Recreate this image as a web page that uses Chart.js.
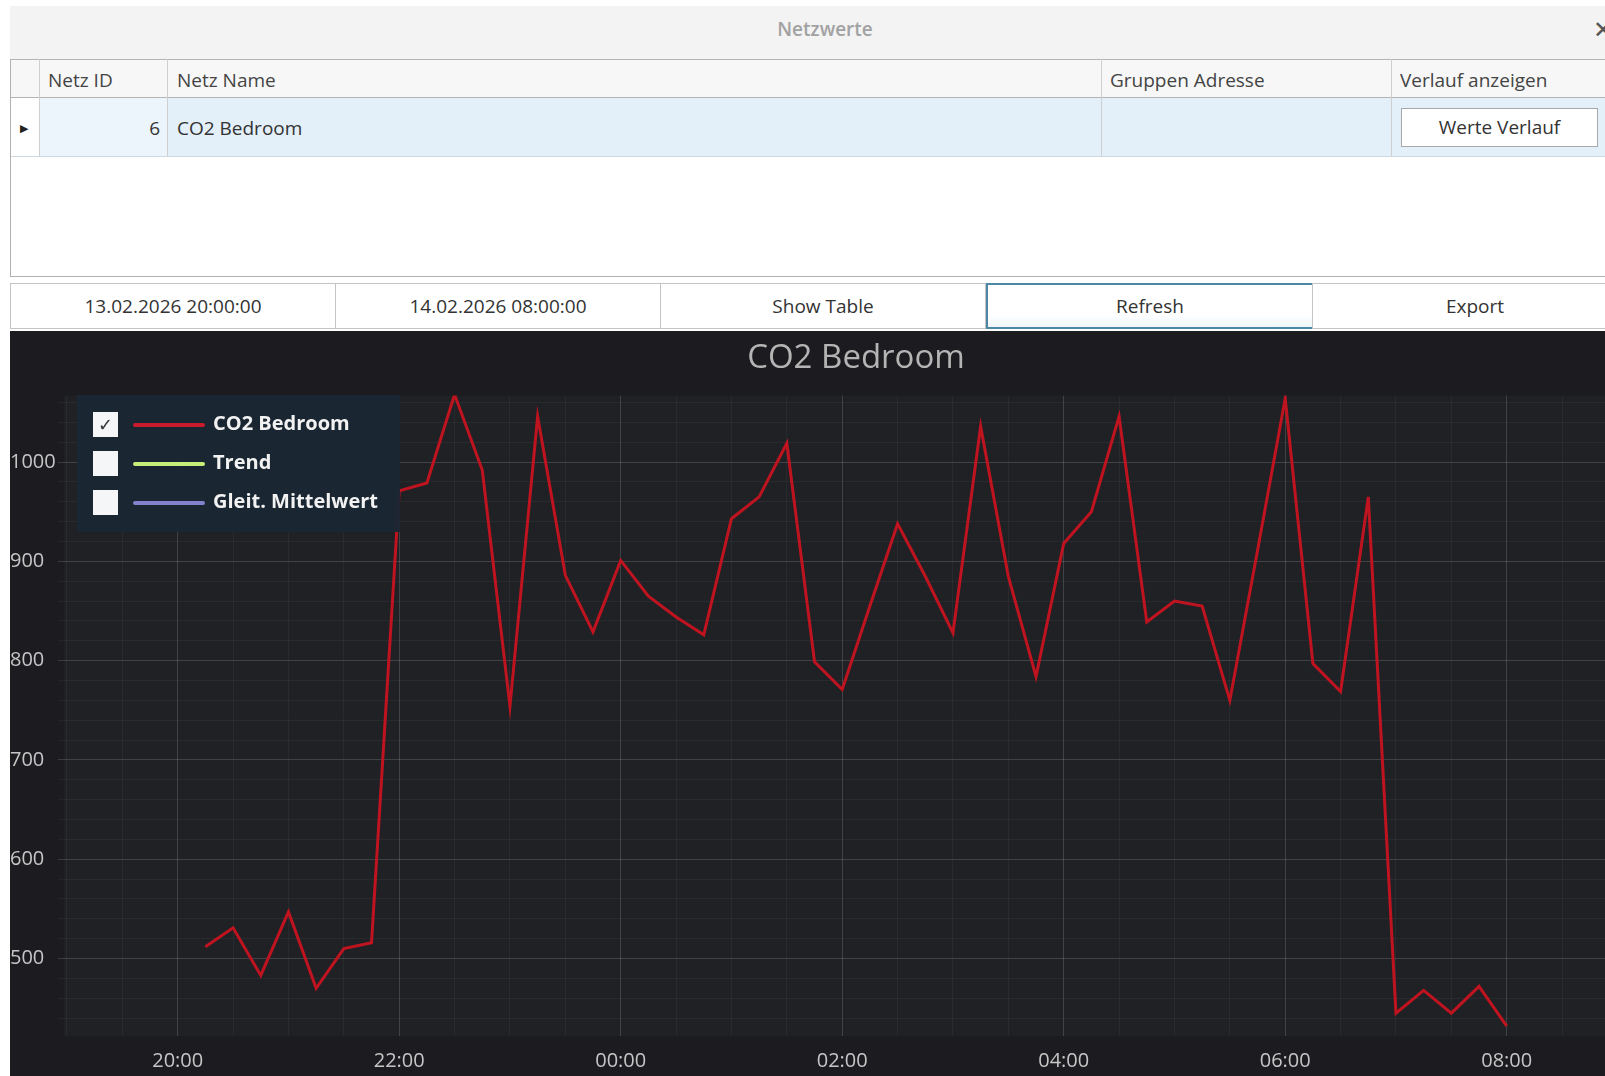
<!DOCTYPE html>
<html lang="de">
<head>
<meta charset="utf-8">
<title>Netzwerte – CO2 Bedroom</title>
<script src="https://cdn.jsdelivr.net/npm/chart.js@4/dist/chart.umd.min.js"></script>
<style>
  html, body { margin: 0; padding: 0; }
  body {
    width: 1605px; height: 1076px; overflow: hidden; position: relative;
    background: #fff; font-family: 'Open Sans', 'Noto Sans', sans-serif; color: #3a3a3a;
  }
  .abs { position: absolute; }

  /* ── window title ───────────────────────── */
  #titlebar { left: 10px; top: 6px; width: 1700px; height: 53px; background: #f3f3f3; }
  #titlebar .t {
    position: absolute; left: 0; top: 0; width: 1630px; line-height: 46px;
    text-align: center; font-size: 19px; font-weight: 600; color: #a2a2a2;
  }
  #close { left: 1593px; top: 12px; font-size: 24px; color: #555; }

  /* ── grid ───────────────────────────────── */
  #grid { left: 10px; top: 59px; width: 1700px; height: 217px; border-left: 1px solid #b0b0b0; border-bottom: 1px solid #b0b0b0; background: #fff; }
  #hdr { left: 0; top: 0; width: 1700px; height: 37px; background: #f7f7f7; border-top: 1px solid #b4b4b4; border-bottom: 2px solid #b4b4b4; }
  #row { left: 0; top: 39px; width: 1700px; height: 58px; background: #e3eff9; border-bottom: 1px solid #cfd8df; }
  #rowhead { left: 0; top: 39px; width: 28px; height: 58px; background: #fff; }
  #idcell { left: 28px; top: 39px; width: 128px; height: 58px; background: #edf5fc; }
  .vsep { width: 1px; background: #cfcfcf; top: 0; height: 98px; }
  .htxt { top: 0; line-height: 42px; font-size: 19px; color: #444; }
  .rtxt { top: 39px; line-height: 60px; font-size: 19px; color: #333; }
  #arrow { left: 9px; top: 39px; line-height: 60px; font-size: 11px; color: #222; }
  #wbtn {
    left: 1390px; top: 49px; width: 195px; height: 37px; background: #fff;
    border: 1px solid #a9a9a9; text-align: center; line-height: 37px; font-size: 19px; color: #333;
  }

  /* ── buttons ────────────────────────────── */
  .btn {
    top: 283px; height: 44px; width: 324px; background: #fff; border: 1px solid #c4c4c4;
    text-align: center; line-height: 44px; font-size: 19px; color: #333;
  }
  .btn.focus { border: 2px solid #4c88a6; height: 42px; line-height: 42px; background: linear-gradient(#fff 70%, #eef6fa); }

  /* ── chart ──────────────────────────────── */
  #chartBox { left: 10px; top: 331px; width: 1692px; height: 745px; background: #1c1c20; }
  #legend { left: 77px; top: 395px; width: 323px; height: 137px; background: rgba(26, 38, 50, 0.96); }
  .lrow { position: absolute; left: 0; height: 26px; width: 323px; }
  .cb { position: absolute; left: 16px; top: 0; width: 25px; height: 25px; background: #f4f6f8; color: #333; font: 18px 'DejaVu Sans', sans-serif; text-align: center; line-height: 26px; }
  .ln { position: absolute; left: 56px; top: 11px; width: 72px; height: 4px; border-radius: 2px; }
  .lt { position: absolute; left: 136px; top: -3px; font-size: 20px; font-weight: 700; color: #f2f2f2; white-space: nowrap; }
</style>
</head>
<body>

<div id="titlebar" class="abs"><div class="t">Netzwerte</div></div>
<div id="close" class="abs">✕</div>

<div id="grid" class="abs">
  <div id="hdr" class="abs"></div>
  <div id="row" class="abs"></div>
  <div id="rowhead" class="abs"></div>
  <div id="idcell" class="abs"></div>
  <div id="arrow" class="abs">▶</div>
  <div class="abs vsep" style="left:28px"></div>
  <div class="abs vsep" style="left:156px"></div>
  <div class="abs vsep" style="left:1090px"></div>
  <div class="abs vsep" style="left:1380px"></div>
  <div class="abs htxt" style="left:37px">Netz ID</div>
  <div class="abs htxt" style="left:166px">Netz Name</div>
  <div class="abs htxt" style="left:1099px">Gruppen Adresse</div>
  <div class="abs htxt" style="left:1389px">Verlauf anzeigen</div>
  <div class="abs rtxt" style="left:28px; width:121px; text-align:right">6</div>
  <div class="abs rtxt" style="left:166px">CO2 Bedroom</div>
  <div id="wbtn" class="abs">Werte Verlauf</div>
</div>

<div class="abs btn" style="left:10px">13.02.2026 20:00:00</div>
<div class="abs btn" style="left:335px">14.02.2026 08:00:00</div>
<div class="abs btn" style="left:660px">Show Table</div>
<div class="abs btn focus" style="left:986px">Refresh</div>
<div class="abs btn" style="left:1312px">Export</div>

<div id="chartBox" class="abs"><canvas id="co2-chart"></canvas></div>

<div id="legend" class="abs">
  <div class="lrow" style="top:17px"><div class="cb">✓</div><div class="ln" style="background:#c81c2c"></div><div class="lt">CO2 Bedroom</div></div>
  <div class="lrow" style="top:56px"><div class="cb"></div><div class="ln" style="background:#c6ee78"></div><div class="lt">Trend</div></div>
  <div class="lrow" style="top:95px"><div class="cb"></div><div class="ln" style="background:#8482cc"></div><div class="lt">Gleit. Mittelwert</div></div>
</div>

<script>
// ── Data ───────────────────────────────────────────
const times = [
  '20:15', '20:30', '20:45', '21:00', '21:15', '21:30', '21:45',
  '22:00', '22:15', '22:30', '22:45', '23:00', '23:15', '23:30', '23:45',
  '00:00', '00:15', '00:30', '00:45', '01:00', '01:15', '01:30', '01:45',
  '02:00', '02:15', '02:30', '02:45', '03:00', '03:15', '03:30', '03:45',
  '04:00', '04:15', '04:30', '04:45', '05:00', '05:15', '05:30', '05:45',
  '06:00', '06:15', '06:30', '06:45', '07:00', '07:15', '07:30', '07:45',
  '08:00'
];
const co2Values = [
  512, 531, 483, 547, 470, 510, 516,
  971, 979, 1068, 992, 754, 1046, 886, 829,
  901, 865, 844, 826, 943, 965, 1019, 799,
  771, 855, 938, 885, 828, 1036, 885, 784,
  918, 950, 1046, 839, 860, 855, 760, 911,
  1064, 797, 769, 965, 445, 468, 445, 472,
  432
];
const xTickLabels = ['20:00', '22:00', '00:00', '02:00', '04:00', '06:00', '08:00'];
const yTickLabels = [500, 600, 700, 800, 900, 1000];

// ── Axis ranges (minutes since 20:00 / ppm) ────────
const X_MIN = -61.6, X_MAX = 825.8;
const Y_MIN = 422,   Y_MAX = 1067;

// minutes since 13.02. 20:00
function toMinutes(hhmm) {
  const [h, m] = hhmm.split(':').map(Number);
  let mins = h * 60 + m - 20 * 60;
  if (mins < 0) mins += 24 * 60;
  return mins;
}

const xMajor = xTickLabels.map(toMinutes);
const points = times.map((t, i) => ({ x: toMinutes(t), y: co2Values[i] }));

// ── Plot area background ───────────────────────────
const plotBg = {
  id: 'plotBg',
  beforeDraw(chart) {
    const { ctx, chartArea: a } = chart;
    ctx.save();
    ctx.fillStyle = '#1f2125';
    ctx.fillRect(a.left, a.top, a.right - a.left, a.bottom - a.top);
    ctx.restore();
  }
};

const gridColor = ctx => ctx.tick && ctx.tick.major ? 'rgba(255,255,255,0.15)' : 'rgba(255,255,255,0.045)';

Chart.defaults.font.family = "'Open Sans', 'Noto Sans', sans-serif";

new Chart(document.getElementById('co2-chart'), {
  type: 'line',
  data: {
    datasets: [{
      label: 'CO2 Bedroom',
      data: points,
      borderColor: '#bf1420',
      borderWidth: 3,
      pointRadius: 0,
      tension: 0,
      fill: false
    }]
  },
  options: {
    responsive: true,
    maintainAspectRatio: false,
    animation: false,
    layout: { padding: 0 },
    plugins: {
      legend: { display: false },
      tooltip: { enabled: false },
      title: {
        display: true,
        text: 'CO2 Bedroom',
        color: '#b4b4b4',
        font: { size: 33, weight: 'normal' },
        padding: { top: 8, bottom: 17 }
      }
    },
    scales: {
      x: {
        type: 'linear',
        min: X_MIN,
        max: X_MAX,
        afterBuildTicks: axis => {
          const ticks = [];
          for (let v = Math.ceil(X_MIN / 30) * 30; v <= X_MAX; v += 30) {
            ticks.push({ value: v, major: xMajor.includes(v) });
          }
          axis.ticks = ticks;
        },
        afterFit: axis => { axis.height = 40; },
        border: { display: false },
        grid: { color: gridColor, lineWidth: 1, drawTicks: false },
        ticks: {
          autoSkip: false,
          maxRotation: 0,
          padding: 13,
          color: '#c6c6c6',
          font: { size: 20 },
          callback: value => {
            const i = xMajor.indexOf(value);
            return i >= 0 ? xTickLabels[i] : '';
          }
        }
      },
      y: {
        min: Y_MIN,
        max: Y_MAX,
        afterBuildTicks: axis => {
          const ticks = [];
          for (let v = Math.ceil(Y_MIN / 20) * 20; v <= Y_MAX; v += 20) {
            ticks.push({ value: v, major: yTickLabels.includes(v) });
          }
          axis.ticks = ticks;
        },
        afterFit: axis => { axis.width = 54; },
        border: { display: false },
        grid: { color: gridColor, lineWidth: 1, tickLength: 6 },
        ticks: {
          autoSkip: false,
          crossAlign: 'far',
          color: '#c6c6c6',
          font: { size: 20 },
          callback: value => yTickLabels.includes(value) ? String(value) : ''
        }
      }
    }
  },
  plugins: [plotBg]
});
</script>
</body>
</html>
